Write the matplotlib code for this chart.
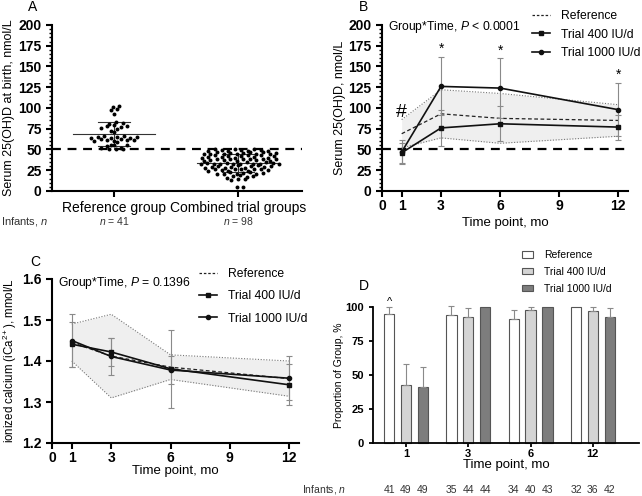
import numpy as np
import matplotlib
matplotlib.use("Agg")
import matplotlib.pyplot as plt
import matplotlib.transforms as mtransforms
from math import gcd
from matplotlib.lines import Line2D
from matplotlib.patches import Patch
from matplotlib.ticker import MultipleLocator

plt.rcParams['font.family'] = ['Liberation Sans', 'DejaVu Sans']
plt.rcParams['mathtext.fontset'] = 'custom'
plt.rcParams['mathtext.rm'] = 'Liberation Sans'
plt.rcParams['mathtext.it'] = 'Liberation Sans:italic'
plt.rcParams['mathtext.bf'] = 'Liberation Sans:bold'

# Panel A: serum 25(OH)D at birth
ref_birth = [102, 101, 99, 98, 93, 83, 82, 81, 79, 78, 78, 77, 76, 75, 72, 71, 66, 66,
             65, 65, 65, 64, 64, 64, 63, 63, 62, 61, 61, 60, 60, 59, 56, 55, 55, 54,
             52, 52, 51, 51, 50]
trial_birth = [50, 50, 50, 49, 49, 49, 48, 48, 48, 48,
               47, 47, 47, 46, 46, 46, 45, 45, 45, 44, 44, 44,
               43, 43, 43, 42, 42, 42, 41, 41, 41, 40, 40, 40,
               39, 39, 39, 38, 38, 38, 37, 37, 37, 36, 36, 36,
               35, 35, 34, 34, 34, 33, 33, 33, 33, 33, 32, 32, 32,
               31, 31, 30, 30, 30, 29, 29, 29, 28, 28, 28,
               27, 27, 26, 26, 26, 25, 25, 24, 24, 24,
               23, 23, 22, 22, 21, 21, 20, 20,
               19, 18, 18, 17, 16, 15, 14, 13, 5, 5]
groups_a = ["Reference group", "Combined trial groups"]
n_a = [41, 98]

# Panels B and C: time course
months = [1, 3, 6, 12]
b_ref = [69, 93, 87.5, 85]
b_ref_sd = [17, 29, 30, 19]
b_400 = [46, 76, 81, 77]
b_400_sd = [12, 22, 21, 15]
b_1000 = [47, 126, 124, 98]
b_1000_sd = [14, 35, 36, 32]

c_ref = [1.445, 1.412, 1.385, 1.357]
c_ref_sd = [0.045, 0.102, 0.03, 0.043]
c_400 = [1.441, 1.422, 1.381, 1.342]
c_400_sd = [0.055, 0.033, 0.095, 0.05]
c_1000 = [1.45, 1.411, 1.378, 1.358]
c_1000_sd = [0.065, 0.045, 0.035, 0.053]

# Panel D: proportion of group
d_labels = ["1", "3", "6", "12"]
d_ref = [95, 94, 91, 100]
d_ref_err = [4.7, 6.5, 7, 0]
d_400 = [43, 93, 97.5, 97]
d_400_err = [15, 6, 2.5, 3]
d_1000 = [41, 100, 100, 93]
d_1000_err = [15, 0, 0, 6]
n_ref = [41, 35, 34, 32]
n_400 = [49, 44, 40, 36]
n_1000 = [49, 44, 43, 42]

W, H = 642, 496
fig = plt.figure(figsize=(W / 100, H / 100), dpi=100)


def px_axes(l, t, r, b):
    return fig.add_axes([l / W, 1 - b / H, (r - l) / W, (b - t) / H])


def style(ax, lw=1.5):
    for s in ['top', 'right']:
        ax.spines[s].set_visible(False)
    for s in ['left', 'bottom']:
        ax.spines[s].set_linewidth(lw)
    ax.tick_params(width=lw, length=4, labelsize=10)
    ax.tick_params(which='minor', width=1.0, length=2.5)


def bold_yticks(ax, ticks, fmt, size=10):
    ax.set_yticks(ticks, [fmt % t for t in ticks], fontweight='bold', fontsize=size)


def figtext(x, y, s, **kw):
    fig.text(x / W, 1 - y / H, s, **kw)


# ---------------- A ----------------
axA = px_axes(52, 25, 302, 191)
axA.set_xlim(-0.5, 1.516)
axA.set_ylim(0, 200)
bold_yticks(axA, np.arange(0, 201, 25), "%d")
axA.yaxis.set_minor_locator(MultipleLocator(5))
axA.set_xticks([0, 1], groups_a, fontsize=8.4)
style(axA)
axA.tick_params(axis='x', pad=3)
axA.axhline(50, color='black', lw=1.6, dashes=(4, 3), zorder=1)

dx = 0.053
for gi, vals in enumerate([ref_birth, trial_birth]):
    vals = np.sort(np.array(vals, dtype=float))
    bins = np.floor(vals / 4.0)
    xs = np.zeros_like(vals)
    for bv in np.unique(bins):
        idx = np.where(bins == bv)[0]
        k = len(idx)
        step = next(s for s in (3, 5, 7, 1) if gcd(s, k) == 1)
        slots = (np.arange(k) * step) % k
        shift = 0.5 * dx if (int(bv) % 2 and k % 2 == 0) or (int(bv) % 2 == 0 and k % 2) else 0
        xs[idx] = gi + (slots - (k - 1) / 2) * dx + shift * 0.6
    axA.scatter(xs, vals, s=8, color='black', zorder=3, linewidths=0)
    m, sd = vals.mean(), vals.std(ddof=1)
    axA.plot([gi - 0.33, gi + 0.33], [m, m], color='#333333', lw=0.8, zorder=2)
    axA.plot([gi - 0.13, gi + 0.13], [m + sd, m + sd], color='#333333', lw=0.8, zorder=2)
    axA.plot([gi - 0.13, gi + 0.13], [m - sd, m - sd], color='#333333', lw=0.8, zorder=2)
    axA.plot([gi, gi], [m - sd, m + sd], color='#333333', lw=0.8, zorder=2)

axA.set_ylabel("Serum 25(OH)D at birth, nmol/L", fontsize=9)
axA.yaxis.set_label_coords(-0.148, 0.5)
ta = mtransforms.blended_transform_factory(axA.transData, fig.transFigure)
for gi, n in enumerate(n_a):
    axA.text(gi, 1 - 221 / H, "$n$ = %d" % n, transform=ta, ha='center', va='center',
             fontsize=7.5, color='#333333')
figtext(1, 221, "Infants, $n$", fontsize=8, va='center', ha='left', color='#333333')
figtext(33, 7, "A", fontsize=10, va='center', ha='center')


# ---------------- B / C time course ----------------
def time_panel(ax, ref, ref_sd, t400, t400_sd, t1000, t1000_sd):
    ref = np.array(ref); ref_sd = np.array(ref_sd)
    ax.fill_between(months, ref - ref_sd, ref + ref_sd, color='#efefef', lw=0, zorder=1)
    ax.plot(months, ref + ref_sd, color='#777777', lw=0.8, ls=(0, (1, 1.5)), zorder=2)
    ax.plot(months, ref - ref_sd, color='#777777', lw=0.8, ls=(0, (1, 1.5)), zorder=2)
    ax.plot(months, ref, color='#222222', lw=0.9, dashes=(3, 2), zorder=3)
    ax.errorbar(months, t400, yerr=t400_sd, fmt='none', ecolor='#8a8a8a', elinewidth=0.8,
                capsize=2, capthick=0.8, zorder=4)
    ax.errorbar(months, t1000, yerr=t1000_sd, fmt='none', ecolor='#8a8a8a', elinewidth=0.8,
                capsize=2, capthick=0.8, zorder=4)
    ax.plot(months, t400, color='#111111', lw=1.2, marker='s', ms=3.5, zorder=5)
    ax.plot(months, t1000, color='#111111', lw=1.2, marker='o', ms=3, zorder=5)
    ax.set_xlim(0, 12.5)
    ax.set_xticks([0, 1, 3, 6, 9, 12], ["0", "1", "3", "6", "9", "12"], fontweight='bold',
                  fontsize=10)
    style(ax)
    ax.tick_params(axis='x', pad=2)


def time_legend(l_px, t_px, spacing):
    handles = [Line2D([], [], color='#222222', lw=0.9, dashes=(2, 1.5)),
               Line2D([], [], color='#111111', lw=1.2, marker='s', ms=3.5),
               Line2D([], [], color='#111111', lw=1.2, marker='o', ms=3)]
    fig.legend(handles, ["Reference", "Trial 400 IU/d", "Trial 1000 IU/d"],
               loc='upper left', bbox_to_anchor=(l_px / W, 1 - t_px / H), frameon=False,
               fontsize=8.7, handlelength=1.5, handletextpad=0.9, labelspacing=spacing,
               borderpad=0, borderaxespad=0)


axB = px_axes(382, 25, 628, 191)
time_panel(axB, b_ref, b_ref_sd, b_400, b_400_sd, b_1000, b_1000_sd)
axB.set_ylim(0, 200)
bold_yticks(axB, np.arange(0, 201, 25), "%d")
axB.yaxis.set_minor_locator(MultipleLocator(5))
axB.axhline(50, color='black', lw=1.6, dashes=(4, 3), zorder=1)
axB.set_ylabel("Serum 25(OH)D, nmol/L", fontsize=9)
axB.yaxis.set_label_coords(-0.146, 0.5)
axB.set_xlabel("Time point, mo", fontsize=9.5, labelpad=3)
for x, y in [(3, 171), (6, 169), (12, 140)]:
    axB.text(x, y, "*", ha='center', va='center', fontsize=10)
axB.text(1, 95, "#", ha='center', va='center', fontsize=14)
axB.text(0.3, 197, "Group*Time, $P$ < 0.0001", ha='left', va='center', fontsize=8.7)
time_legend(532, 10, 0.55)
figtext(364, 7, "B", fontsize=10, va='center', ha='center')

axC = px_axes(52, 279, 299, 443)
time_panel(axC, c_ref, c_ref_sd, c_400, c_400_sd, c_1000, c_1000_sd)
axC.set_ylim(1.2, 1.6)
bold_yticks(axC, np.round(np.arange(1.2, 1.61, 0.1), 1), "%.1f")
axC.set_ylabel("ionized calcium (iCa$^{2+}$), mmol/L", fontsize=8.3)
axC.yaxis.set_label_coords(-0.135, 0.5)
axC.set_xlabel("Time point, mo", fontsize=9.5, labelpad=0)
axC.text(0.3, 1.59, "Group*Time, $P$ = 0.1396", ha='left', va='center', fontsize=8.7)
time_legend(199, 268, 0.85)
figtext(35, 262, "C", fontsize=10, va='center', ha='center')

# ---------------- D ----------------
axD = px_axes(373, 307, 639, 443)
gx = np.arange(len(d_labels))
off = 0.27
bw = 0.165
cols = ['white', '#d4d4d4', '#7d7d7d']
series = [(d_ref, d_ref_err), (d_400, d_400_err), (d_1000, d_1000_err)]
for si, (vals, errs) in enumerate(series):
    xs = gx + (si - 1) * off
    axD.bar(xs, vals, width=bw, color=cols[si], edgecolor='#555555', lw=0.8, zorder=2,
            clip_on=False)
    for x, v, e in zip(xs, vals, errs):
        if e > 0:
            axD.errorbar([x], [v], yerr=[[0], [e]], fmt='none', ecolor='#8a8a8a',
                         elinewidth=0.8, capsize=2, capthick=0.8, zorder=3, clip_on=False)
axD.set_xlim(-0.53, 3.74)
axD.set_ylim(0, 100)
bold_yticks(axD, np.arange(0, 101, 25), "%d", size=8)
axD.set_xticks(gx, d_labels, fontweight='bold', fontsize=8)
style(axD, lw=1.3)
axD.tick_params(labelsize=8, length=3)
axD.tick_params(axis='x', pad=1.5)
axD.set_ylabel("Proportion of Group, %", fontsize=7.5)
axD.yaxis.set_label_coords(-0.109, 0.5)
axD.set_xlabel("Time point, mo", fontsize=9.5, labelpad=0)
axD.text(0 - off, 104, "^", ha='center', va='center', fontsize=8)
td = mtransforms.blended_transform_factory(axD.transData, fig.transFigure)
for si, ns in enumerate([n_ref, n_400, n_1000]):
    for g, n in zip(gx, ns):
        axD.text(g + (si - 1) * off, 1 - 490 / H, str(n), transform=td, ha='center',
                 va='center', fontsize=7.5, color='#333333')
figtext(302, 490, "Infants, $n$", fontsize=7.5, va='center', ha='left', color='#333333')
hd = [Patch(facecolor=c, edgecolor='#555555', lw=0.8) for c in cols]
fig.legend(hd, ["Reference", "Trial 400 IU/d", "Trial 1000 IU/d"], loc='upper left',
           bbox_to_anchor=(522 / W, 1 - 250 / H), frameon=False, fontsize=7.5,
           handlelength=1.1, handleheight=0.6, handletextpad=1.0, labelspacing=0.65,
           borderpad=0, borderaxespad=0)
figtext(364, 286, "D", fontsize=10, va='center', ha='center')

fig.savefig("out.png", dpi=100)
